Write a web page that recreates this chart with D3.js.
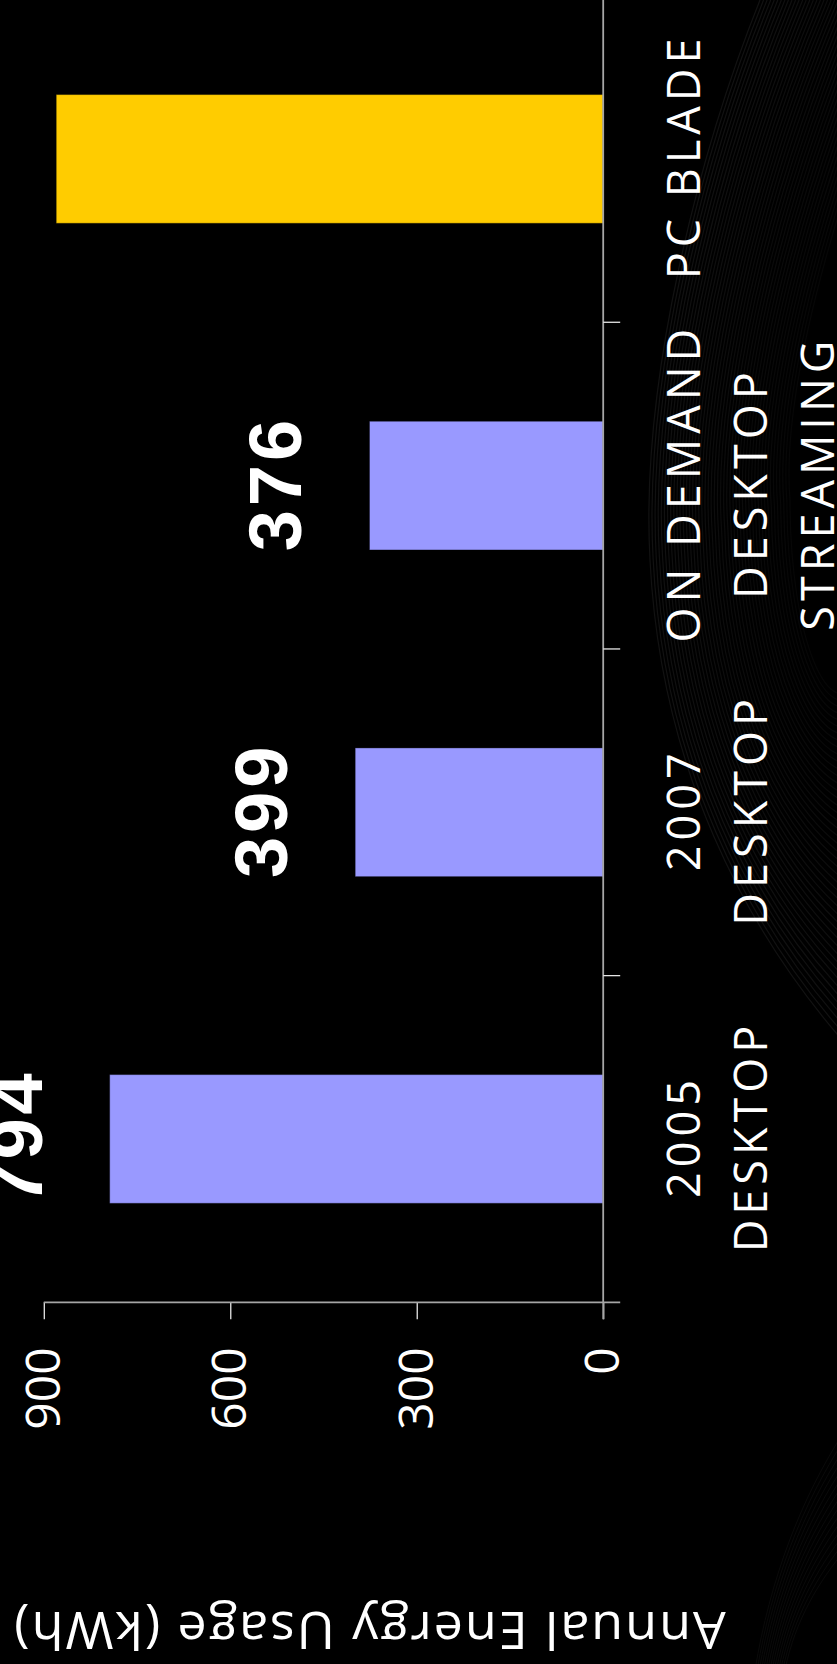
<!DOCTYPE html>
<html>
<head>
<meta charset="utf-8">
<script src="https://cdn.jsdelivr.net/npm/d3@7"></script>
<style>
  html, body { margin: 0; padding: 0; background: #000; }
  svg { display: block; }
</style>
</head>
<body>
<script>
// chart data
var categories = ["2005 DESKTOP", "2007 DESKTOP", "ON DEMAND DESKTOP STREAMING", "PC BLADE"];
var labelLines = [["2005", "DESKTOP"], ["2007", "DESKTOP"], ["ON DEMAND", "DESKTOP", "STREAMING"], ["PC BLADE"]];
var values = [794, 399, 376, 880];
var barColors = ["#9999ff", "#9999ff", "#9999ff", "#ffcc00"];
var yTicks = [0, 300, 600, 900];
var yTitle = "Annual Energy Usage (kWh)";

// page is 837 x 1664, the slide is drawn sideways (rotated -90)
var pageW = 837, pageH = 1664;

var svg = d3.select("body").append("svg")
    .attr("width", pageW)
    .attr("height", pageH);

svg.append("rect").attr("width", pageW).attr("height", pageH).attr("fill", "#000");

// faint streaky swoosh of the slide theme (decoration only)
var deco = svg.append("g").attr("class", "swoosh");
d3.range(0, 1.0001, 1 / 45).forEach(function(t){
  var sx = 760 + t * 160,
      c1x = 700 + t * 150, c1y = 150,
      c2x = 640 + t * 140, c2y = 380,
      mx = 650 + t * 140, my = 560 - t * 60,
      c3x = 660 + t * 130, c3y = 760 - t * 120,
      c4x = 740 + t * 90, c4y = 930 - t * 200,
      ex = 860, ey = 1060 - t * 380;
  deco.append("path")
    .attr("d", "M" + sx + ",0 C" + c1x + "," + c1y + " " + c2x + "," + c2y + " " + mx + "," + my +
               " C" + c3x + "," + c3y + " " + c4x + "," + c4y + " " + ex + "," + ey)
    .attr("fill", "none")
    .attr("stroke", "#fff")
    .attr("stroke-width", 1.2)
    .attr("stroke-opacity", 0.07 * (1 - t * 0.6));
});
d3.range(0, 1.0001, 1 / 14).forEach(function(t){
  deco.append("path")
    .attr("d", "M" + (845) + "," + (1430 + t * 120) + " C" + (800 + t * 20) + "," + (1500 + t * 80) + " " +
               (770 + t * 25) + "," + (1580 + t * 40) + " " + (755 + t * 30) + ",1670")
    .attr("fill", "none")
    .attr("stroke", "#fff")
    .attr("stroke-width", 1)
    .attr("stroke-opacity", 0.04);
});

var g = svg.append("g")
    .attr("transform", "translate(0," + pageH + ") rotate(-90)");

var data = categories.map(function(c, i){
  return {cat: c, lines: labelLines[i], value: values[i], color: barColors[i]};
});

// scales
var x = d3.scaleBand()
    .domain(categories)
    .range([361.7, 1668.4])
    .paddingInner(0.606)
    .paddingOuter(0.303);

var y = d3.scaleLinear()
    .domain([0, 900])
    .range([603.2, 43.8]);

// bars
g.selectAll(".bar")
  .data(data)
  .enter()
  .append("rect")
    .attr("class", "bar")
    .attr("x", function(d){ return x(d.cat); })
    .attr("width", x.bandwidth())
    .attr("y", function(d){ return y(d.value); })
    .attr("height", function(d){ return y(0) - y(d.value); })
    .attr("fill", function(d){ return d.color; })
    .attr("stroke", "#000")
    .attr("stroke-opacity", 0.35)
    .attr("stroke-width", 1);

// value labels (the PC BLADE one falls off the slide)
var labelGap = 68, ls = 4;
g.selectAll(".val")
  .data(data.filter(function(d){ return y(d.value) - labelGap > 0; }))
  .enter()
  .append("text")
    .attr("class", "val")
    .attr("x", function(d){ return x(d.cat) + x.bandwidth() / 2 + ls / 2; })
    .attr("y", function(d){ return y(d.value) - labelGap; })
    .attr("text-anchor", "middle")
    .attr("fill", "#fff")
    .style("font-family", "'Liberation Sans', Arial, sans-serif")
    .style("font-weight", "bold")
    .style("font-size", "74px")
    .style("letter-spacing", ls + "px")
    .text(function(d){ return d.value; });

// y axis
var yAxis = d3.axisLeft(y).tickValues(yTicks).tickSize(17).tickSizeOuter(0).tickPadding(28);
var ya = g.append("g")
    .attr("transform", "translate(361.7,0)")
    .call(yAxis);
ya.select(".domain").remove();
ya.selectAll(".tick line").attr("stroke", "#e6e6e6").attr("stroke-width", 1.3);
ya.selectAll(".tick text")
    .attr("fill", "#fff")
    .style("font-family", "'Open Sans', sans-serif")
    .style("font-size", "48px");
ya.append("line")
    .attr("x1", 0).attr("x2", 0)
    .attr("y1", y(900)).attr("y2", y(0) + 17)
    .attr("stroke", "#a6a6a6").attr("stroke-width", 1.8);

// category axis
var step = x.step(), outer = step * x.paddingOuter();
var bounds = categories.map(function(c){ return x(c) - outer; });
bounds.push(x.range()[1]);

var xa = g.append("g").attr("class", "x-axis");
xa.append("line")
    .attr("x1", x.range()[0] - 17).attr("x2", x.range()[1])
    .attr("y1", y(0)).attr("y2", y(0))
    .attr("stroke", "#a6a6a6").attr("stroke-width", 1.8);
xa.selectAll(".xtick")
  .data(bounds.slice(1))
  .enter()
  .append("line")
    .attr("class", "xtick")
    .attr("x1", function(d){ return d; }).attr("x2", function(d){ return d; })
    .attr("y1", y(0)).attr("y2", y(0) + 17)
    .attr("stroke", "#e6e6e6").attr("stroke-width", 1.3);

var catLs = 5;
var catText = xa.selectAll(".cat")
  .data(data)
  .enter()
  .append("text")
    .attr("class", "cat")
    .attr("text-anchor", "middle")
    .attr("fill", "#fff")
    .style("font-family", "'Open Sans', sans-serif")
    .style("font-size", "45px")
    .style("letter-spacing", catLs + "px");

catText.selectAll("tspan")
  .data(function(d){ return d.lines.map(function(l){ return {line: l, cat: d.cat}; }); })
  .enter()
  .append("tspan")
    .attr("x", function(d){ return x(d.cat) + x.bandwidth() / 2 + catLs / 2; })
    .attr("y", function(d, i){ return 700 + i * 67; })
    .text(function(d){ return d.line; });

// y axis title
g.append("text")
    .attr("transform", "translate(52,369) rotate(-90)")
    .attr("text-anchor", "middle")
    .attr("fill", "#fff")
    .style("font-family", "'Open Sans', sans-serif")
    .style("font-size", "52px")
    .style("letter-spacing", "2px")
    .text(yTitle);
</script>
</body>
</html>
